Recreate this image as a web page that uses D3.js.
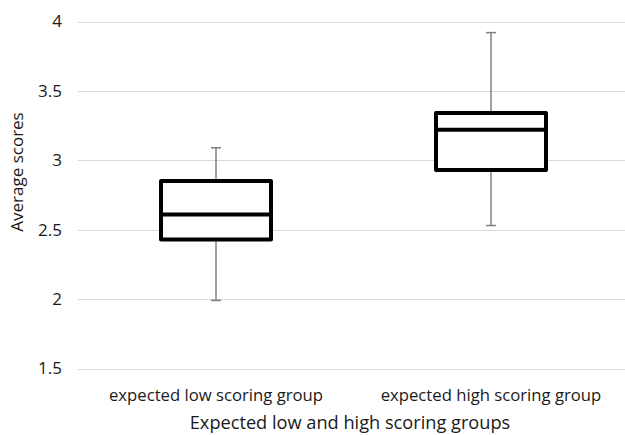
<!DOCTYPE html>
<html>
  <head>
    <meta charset="UTF-8" />
    <script src="https://d3js.org/d3.v7.min.js"></script>
    <style>
      body { margin: 0; background: #fff; }
      text { font-family: "Open Sans", sans-serif; fill: #1a1a1a; }
    </style>
  </head>
  <body>
    <div id="chart"></div>
    <script>
      // Dados do gráfico
      var groups = ["expected low scoring group", "expected high scoring group"];
      var whiskerMin = [1.99, 2.53];
      var q1 = [2.43, 2.93];
      var median = [2.61, 3.22];
      var q3 = [2.85, 3.34];
      var whiskerMax = [3.09, 3.92];
      var yTicks = [1.5, 2, 2.5, 3, 3.5, 4];

      var data = groups.map((g, i) => ({
        group: g,
        min: whiskerMin[i],
        q1: q1[i],
        med: median[i],
        q3: q3[i],
        max: whiskerMax[i]
      }));

      var width = 625, height = 435;

      var svg = d3
        .select("#chart")
        .append("svg")
        .attr("width", width)
        .attr("height", height);

      // Escalas
      var x = d3.scaleBand().domain(groups).range([78.5, 628.5]);
      var y = d3.scaleLinear().domain([1.5, 4]).range([368.5, 21.5]);

      // Linhas de grade
      svg
        .append("g")
        .selectAll("line")
        .data(yTicks)
        .enter()
        .append("line")
        .attr("x1", 78)
        .attr("x2", 628)
        .attr("y1", (d) => Math.round(y(d)) + 0.5)
        .attr("y2", (d) => Math.round(y(d)) + 0.5)
        .attr("stroke", "#d9d9d9")
        .attr("stroke-width", 1.2);

      // Eixo y (só rótulos)
      var yAxis = svg
        .append("g")
        .attr("transform", "translate(62,0)")
        .call(d3.axisLeft(y).tickValues(yTicks).tickSize(0).tickPadding(0).tickFormat(d3.format("")));
      yAxis.select(".domain").remove();
      yAxis.selectAll("text").attr("font-size", 17).attr("font-family", "Open Sans").attr("fill", "#1a1a1a");

      // Eixo x (só rótulos)
      var xAxis = svg
        .append("g")
        .attr("transform", "translate(0,385)")
        .call(d3.axisBottom(x).tickSize(0).tickPadding(4));
      xAxis.select(".domain").remove();
      xAxis.selectAll("text").attr("font-size", 16.7).attr("font-family", "Open Sans").attr("fill", "#1a1a1a");

      var boxW = x.bandwidth() * 0.4;
      var capW = 10;

      var box = svg
        .append("g")
        .selectAll("g")
        .data(data)
        .enter()
        .append("g")
        .attr("transform", (d) => "translate(" + (x(d.group) + x.bandwidth() / 2) + ",0)");

      // Bigodes
      box.append("line")
        .attr("y1", (d) => y(d.max)).attr("y2", (d) => y(d.q3))
        .attr("stroke", "#808080").attr("stroke-width", 1.5);
      box.append("line")
        .attr("y1", (d) => y(d.q1)).attr("y2", (d) => y(d.min))
        .attr("stroke", "#808080").attr("stroke-width", 1.5);
      box.append("line")
        .attr("x1", -capW / 2).attr("x2", capW / 2)
        .attr("y1", (d) => y(d.max)).attr("y2", (d) => y(d.max))
        .attr("stroke", "#808080").attr("stroke-width", 1.5);
      box.append("line")
        .attr("x1", -capW / 2).attr("x2", capW / 2)
        .attr("y1", (d) => y(d.min)).attr("y2", (d) => y(d.min))
        .attr("stroke", "#808080").attr("stroke-width", 1.5);

      // Caixas
      box.append("rect")
        .attr("x", -boxW / 2)
        .attr("width", boxW)
        .attr("y", (d) => y(d.q3))
        .attr("height", (d) => y(d.q1) - y(d.q3))
        .attr("fill", "#fff")
        .attr("stroke", "#000")
        .attr("stroke-width", 4)
        .attr("stroke-linejoin", "round");
      box.append("line")
        .attr("x1", -boxW / 2).attr("x2", boxW / 2)
        .attr("y1", (d) => y(d.med)).attr("y2", (d) => y(d.med))
        .attr("stroke", "#000").attr("stroke-width", 4);

      // Títulos dos eixos
      svg.append("text")
        .attr("x", 350).attr("y", 429)
        .attr("text-anchor", "middle")
        .attr("font-size", 18.2)
        .text("Expected low and high scoring groups");

      svg.append("text")
        .attr("transform", "translate(23,172) rotate(-90)")
        .attr("text-anchor", "middle")
        .attr("font-size", 17)
        .text("Average scores");
    </script>
  </body>
</html>
